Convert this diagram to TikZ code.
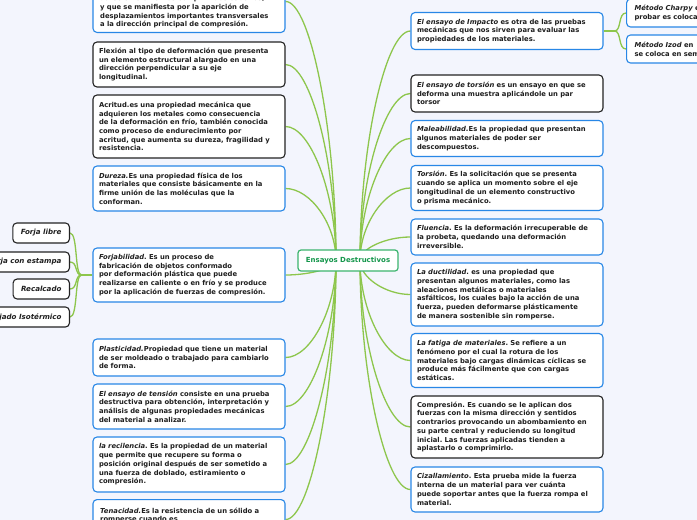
\documentclass[tikz,border=0pt]{standalone}
\usepackage{fontspec}
\setmainfont{DejaVu Sans}
\usetikzlibrary{calc}
\definecolor{bgc}{RGB}{243,245,253}
\definecolor{myblue}{RGB}{40,135,230}
\definecolor{mydark}{RGB}{35,35,35}
\definecolor{lgreen}{RGB}{141,198,76}
\definecolor{cborder}{RGB}{60,180,110}
\definecolor{ctext}{RGB}{20,150,75}
\pgfdeclarelayer{back}\pgfdeclarelayer{bg}\pgfsetlayers{back,bg,main}
\begin{document}
\frenchspacing
\hyphenpenalty=10000
\begin{tikzpicture}[x=1pt,y=-1pt,
 box/.style={fill=white, rounded corners=4pt, line width=1.1pt, text width=180pt, align=left, inner xsep=6pt, inner ysep=0pt, font=\frenchspacing\bfseries\fontsize{6.8}{8.7}\selectfont, text=black!88},
 bbox/.style={box, draw=myblue},
 dbox/.style={box, draw=mydark},
 txt/.style={inner sep=0pt, text width=180pt, align=left, font=\frenchspacing\bfseries\fontsize{6.8}{8.7}\selectfont, text=black!88},
 sbox/.style={draw=mydark, fill=white, rounded corners=4pt, line width=1.1pt, inner xsep=8pt, minimum height=20pt, font=\bfseries\itshape\fontsize{7.1}{8}\selectfont, text=black!88, anchor=east},
 conn/.style={draw=lgreen, line width=1.3pt},
 cnode/.style={draw=cborder, fill=white, rounded corners=3pt, line width=1.2pt, minimum width=100pt, minimum height=21pt, text=ctext, font=\bfseries\fontsize{7}{8}\selectfont}
]
\useasboundingbox (0,0) rectangle (697,520);
\begin{pgfonlayer}{back}
\fill[bgc] (0,0) rectangle (697,520);
\end{pgfonlayer}

% center
\node[cnode] (c) at (348,260.5) {Ensayos Destructivos};
\coordinate (cl) at (336,260.5);
\coordinate (cr) at (360,260.5);

% left column
\node[bbox, minimum height=62pt, anchor=south] (l1) at (189,33) {};
\node[txt, anchor=south west] (l1t) at (100,28.5) {darse en elementos comprimidos esbeltos,\\ y que se manifiesta por la aparición de\\ desplazamientos importantes transversales\\ a la dirección principal de compresión.};
\node[dbox, minimum height=45pt] (l2) at (189,64.5) {Flexión al tipo de deformación que presenta\\ un elemento estructural alargado en una\\ dirección perpendicular a su eje\\ longitudinal.};
\node[dbox, minimum height=63pt] (l3) at (189,126.5) {Acritud.es una propiedad mecánica que\\ adquieren los metales como consecuencia\\ de la deformación en frío, también conocida\\ como proceso de endurecimiento por\\ acritud, que aumenta su dureza, fragilidad y\\ resistencia.};
\node[bbox, minimum height=45pt] (l4) at (189,188.5) {\textit{Dureza.}Es una propiedad física de los\\ materiales que consiste básicamente en la\\ firme unión de las moléculas que la\\ conforman.};
\node[bbox, minimum height=54pt] (l5) at (189,275) {\textit{Forjabilidad}. Es un proceso de\\ fabricación de objetos conformado\\ por deformación plástica que puede\\ realizarse en caliente o en frío y se produce\\ por la aplicación de fuerzas de compresión.};
\node[bbox, minimum height=37pt] (l6) at (189,357.5) {\textit{Plasticidad.}Propiedad que tiene un material\\ de ser moldeado o trabajado para cambiarlo\\ de forma.};
\node[bbox, minimum height=45pt] (l7) at (189,406.5) {\textit{El ensayo de tensión} consiste en una prueba\\ destructiva para obtención, interpretación y\\ análisis de algunas propiedades mecánicas\\ del material a analizar.};
\node[bbox, minimum height=55pt] (l8) at (189,464.5) {\textit{la recilencia}. Es la propiedad de un material\\ que permite que recupere su forma o\\ posición original después de ser sometido a\\ una fuerza de doblado, estiramiento o\\ compresión.};
\node[bbox, minimum height=40pt, anchor=north] (l9) at (189,499) {};
\node[txt, anchor=north west] (l9t) at (100,507.5) {\textit{Tenacidad.}Es la resistencia de un sólido a\\ romperse cuando es};

% far left
\node[sbox] (fl1) at (70,233) {Forja libre};
\node[sbox] (fl2) at (70,262) {Forja con estampa};
\node[sbox] (fl3) at (70,289) {Recalcado};
\node[sbox] (fl4) at (70,317) {Forjado Isotérmico};

% right column
\node[bbox, minimum height=37pt] (r1) at (507,31) {\textit{El ensayo de Impacto} es otra de las pruebas\\ mecánicas que nos sirven para evaluar las\\ propiedades de los materiales.};
\node[dbox, minimum height=37pt] (r2) at (507,93.5) {\textit{El ensayo de torsión} es un ensayo en que se\\ deforma una muestra aplicándole un par\\ torsor};
\node[bbox, minimum height=36pt] (r3) at (507,138.5) {\textit{Maleabilidad.}Es la propiedad que presentan\\ algunos materiales de poder ser\\ descompuestos.};
\node[bbox, minimum height=45pt] (r4) at (507,188) {\textit{Torsión}. Es la solicitación que se presenta\\ cuando se aplica un momento sobre el eje\\ longitudinal de un elemento constructivo\\ o prisma mecánico.};
\node[bbox, minimum height=36pt] (r5) at (507,237) {\textit{Fluencia}. Es la deformación irrecuperable de\\ la probeta, quedando una deformación\\ irreversible.};
\node[bbox, minimum height=63pt] (r6) at (507,294.5) {\textit{La ductilidad}. es una propiedad que\\ presentan algunos materiales, como las\\ aleaciones metálicas o materiales\\ asfálticos, los cuales bajo la acción de una\\ fuerza, pueden deformarse plásticamente\\ de manera sostenible sin romperse.};
\node[bbox, minimum height=54pt] (r7) at (507,360.5) {\textit{La fatiga de materiales}. Se refiere a un\\ fenómeno por el cual la rotura de los\\ materiales bajo cargas dinámicas cíclicas se\\ produce más fácilmente que con cargas\\ estáticas.};
\node[dbox, minimum height=62pt] (r8) at (507,427) {Compresión. Es cuando se le aplican dos\\ fuerzas con la misma dirección y sentidos\\ contrarios provocando un abombamiento en\\ su parte central y reduciendo su longitud\\ inicial. Las fuerzas aplicadas tienden a\\ aplastarlo o comprimirlo.};
\node[bbox, minimum height=45pt] (r9) at (507,489.5) {\textit{Cizallamiento}. Esta prueba mide la fuerza\\ interna de un material para ver cuánta\\ puede soportar antes que la fuerza rompa el\\ material.};

% far right
\node[bbox, text width=130pt, minimum height=28pt, inner xsep=8pt, anchor=west] (rr1) at (626,13) {\textit{Método Charpy} e\\ probar es coloca};
\node[bbox, text width=130pt, minimum height=28pt, inner xsep=8pt, anchor=west] (rr2) at (626,49) {\textit{Método Izod} en\\ se coloca en sem};

% connectors
\begin{pgfonlayer}{bg}
\foreach \n in {l1,l2,l3,l4,l5,l6,l7,l8,l9}{
  \draw[conn] (\n.east) .. controls +(25,0) and ($(cl)!0.5!(cl|-\n.east)$) .. (cl);
}
\foreach \n in {r1,r2,r3,r4,r5,r6,r7,r8,r9}{
  \draw[conn] (\n.west) .. controls +(-25,0) and ($(cr)!0.5!(cr|-\n.west)$) .. (cr);
}
\coordinate (fj) at ($(l5.west)+(-11,0)$);
\draw[conn] (l5.west) -- (fj);
\foreach \n in {fl1,fl2,fl3,fl4}{
  \draw[conn] (fj) .. controls +(-7,0) and +(8,0) .. (\n.east);
}
\coordinate (rj) at ($(r1.east)+(11,0)$);
\draw[conn] (r1.east) -- (rj);
\foreach \n in {rr1,rr2}{
  \draw[conn] (rj) .. controls +(7,0) and +(-8,0) .. (\n.west);
}
\end{pgfonlayer}
\end{tikzpicture}
\end{document}
